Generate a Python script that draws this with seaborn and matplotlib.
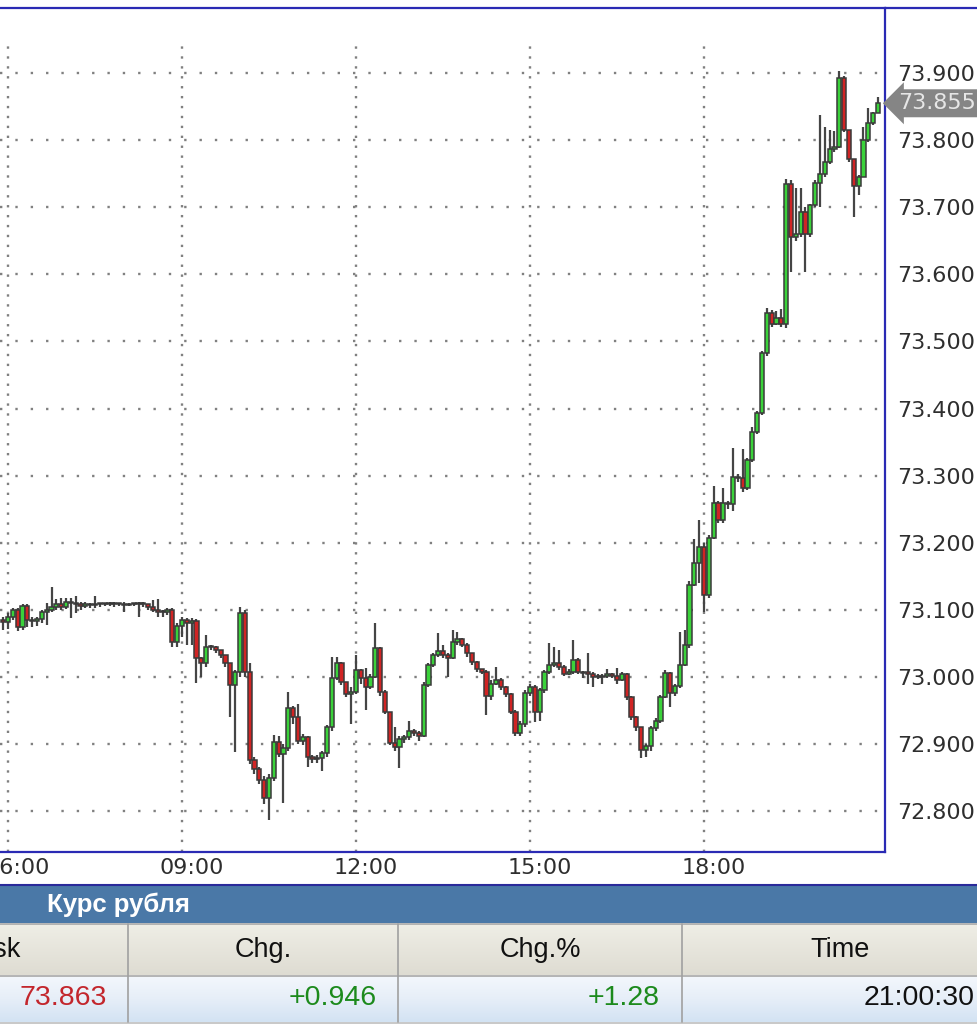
import numpy as np
import pandas as pd
import matplotlib
matplotlib.use('Agg')
import matplotlib.pyplot as plt
import seaborn as sns
from matplotlib.lines import Line2D
from matplotlib.patches import Rectangle
from matplotlib.colors import LinearSegmentedColormap
from matplotlib.transforms import ScaledTranslation, blended_transform_factory

# 5 minute candles, the first one at 05:55, the last one at 21:00
start_hour = 5 + 55 / 60
first_open = 73.085

closes = [73.082, 73.090, 73.100, 73.075, 73.106, 73.085, 73.083, 73.086, 73.097, 73.099,
          73.104, 73.108, 73.104, 73.112, 73.110, 73.108, 73.106, 73.108, 73.107, 73.109,
          73.108, 73.108, 73.109, 73.108, 73.108, 73.107, 73.108, 73.108, 73.110, 73.108,
          73.104, 73.100, 73.097, 73.096, 73.100, 73.052, 73.076, 73.085, 73.081, 73.083,
          73.028, 73.020, 73.045, 73.044, 73.040, 73.032, 73.020, 72.988, 73.007, 73.095,
          73.007, 72.876, 72.862, 72.847, 72.819, 72.850, 72.903, 72.885, 72.894, 72.953,
          72.940, 72.905, 72.910, 72.880, 72.877, 72.879, 72.886, 72.925, 72.998, 73.020,
          72.993, 72.975, 72.977, 73.010, 72.998, 72.985, 73.000, 73.043, 72.977, 72.948,
          72.901, 72.895, 72.907, 72.910, 72.920, 72.916, 72.912, 72.988, 73.018, 73.033,
          73.038, 73.033, 73.028, 73.052, 73.056, 73.048, 73.035, 73.022, 73.012, 73.008,
          72.972, 72.990, 72.995, 72.985, 72.975, 72.948, 72.916, 72.930, 72.976, 72.985,
          72.948, 72.980, 73.007, 73.018, 73.020, 73.015, 73.005, 73.008, 73.025, 73.007,
          73.006, 73.005, 73.000, 73.000, 73.001, 73.004, 73.002, 72.996, 73.004, 72.970,
          72.940, 72.925, 72.891, 72.897, 72.924, 72.935, 72.970, 73.006, 72.976, 72.986,
          73.018, 73.047, 73.137, 73.170, 73.193, 73.122, 73.207, 73.259, 73.234, 73.259,
          73.257, 73.298, 73.296, 73.281, 73.323, 73.365, 73.393, 73.483, 73.542, 73.526,
          73.535, 73.526, 73.735, 73.656, 73.660, 73.693, 73.660, 73.703, 73.736, 73.750,
          73.767, 73.787, 73.790, 73.893, 73.815, 73.772, 73.732, 73.745, 73.800, 73.825,
          73.840, 73.855]

highs = [73.090, 73.095, 73.102, 73.103, 73.108, 73.108, 73.090, 73.090, 73.099, 73.110,
         73.134, 73.116, 73.118, 73.118, 73.118, 73.120, 73.112, 73.112, 73.110, 73.121,
         73.110, 73.110, 73.112, 73.111, 73.110, 73.112, 73.110, 73.110, 73.111, 73.111,
         73.109, 73.114, 73.116, 73.100, 73.102, 73.103, 73.080, 73.090, 73.088, 73.088,
         73.086, 73.030, 73.062, 73.048, 73.046, 73.040, 73.030, 73.020, 73.010, 73.104,
         73.100, 73.021, 72.880, 72.865, 72.852, 72.855, 72.913, 72.912, 72.900, 72.977,
         72.956, 72.960, 72.915, 72.912, 72.883, 72.884, 72.890, 72.928, 73.030, 73.030,
         73.022, 72.992, 72.985, 73.033, 73.012, 73.013, 73.004, 73.080, 73.045, 72.980,
         72.948, 72.925, 72.912, 72.914, 72.935, 72.922, 72.920, 72.992, 73.020, 73.036,
         73.065, 73.048, 73.035, 73.070, 73.067, 73.058, 73.050, 73.036, 73.024, 73.012,
         73.010, 72.995, 73.015, 72.998, 72.986, 72.976, 72.950, 72.934, 72.980, 72.990,
         72.988, 72.983, 73.010, 73.050, 73.045, 73.040, 73.018, 73.012, 73.055, 73.028,
         73.009, 73.035, 73.008, 73.004, 73.005, 73.012, 73.006, 73.013, 73.008, 73.006,
         72.972, 72.942, 72.926, 72.900, 72.927, 72.938, 72.973, 73.010, 73.008, 72.990,
         73.067, 73.070, 73.143, 73.205, 73.234, 73.200, 73.212, 73.285, 73.262, 73.282,
         73.262, 73.341, 73.303, 73.340, 73.326, 73.372, 73.397, 73.486, 73.550, 73.547,
         73.545, 73.548, 73.742, 73.740, 73.728, 73.728, 73.700, 73.705, 73.740, 73.837,
         73.820, 73.815, 73.813, 73.903, 73.895, 73.812, 73.772, 73.748, 73.820, 73.848,
         73.842, 73.864]

lows = [73.070, 73.072, 73.085, 73.068, 73.070, 73.075, 73.075, 73.076, 73.080, 73.078,
        73.096, 73.100, 73.100, 73.101, 73.088, 73.095, 73.100, 73.102, 73.103, 73.103,
        73.104, 73.106, 73.106, 73.104, 73.106, 73.097, 73.105, 73.106, 73.090, 73.104,
        73.100, 73.096, 73.090, 73.090, 73.092, 73.045, 73.044, 73.060, 73.047, 73.047,
        72.991, 73.000, 73.015, 73.040, 73.035, 73.028, 73.015, 72.940, 72.888, 73.000,
        73.000, 72.870, 72.855, 72.840, 72.810, 72.787, 72.845, 72.880, 72.812, 72.890,
        72.930, 72.900, 72.898, 72.866, 72.872, 72.872, 72.860, 72.880, 72.920, 72.995,
        72.988, 72.970, 72.930, 72.975, 72.990, 72.950, 72.982, 72.998, 72.972, 72.944,
        72.898, 72.890, 72.864, 72.902, 72.906, 72.912, 72.905, 72.910, 72.985, 73.015,
        73.030, 73.028, 73.000, 73.026, 73.048, 73.045, 73.030, 73.018, 73.008, 73.004,
        72.943, 72.965, 72.988, 72.980, 72.970, 72.944, 72.912, 72.912, 72.925, 72.972,
        72.933, 72.935, 72.976, 73.004, 73.015, 73.010, 73.002, 73.003, 73.005, 73.004,
        72.998, 72.990, 72.985, 72.997, 72.990, 72.998, 72.998, 72.990, 72.994, 72.966,
        72.936, 72.920, 72.879, 72.880, 72.890, 72.920, 72.932, 72.968, 72.955, 72.972,
        72.984, 73.016, 73.043, 73.135, 73.140, 73.097, 73.118, 73.205, 73.230, 73.230,
        73.250, 73.248, 73.290, 73.275, 73.278, 73.320, 73.362, 73.390, 73.478, 73.522,
        73.524, 73.522, 73.520, 73.603, 73.650, 73.655, 73.603, 73.655, 73.700, 73.700,
        73.745, 73.765, 73.782, 73.788, 73.812, 73.768, 73.685, 73.718, 73.745, 73.798,
        73.823, 73.840]

y_ticks = [72.8, 72.9, 73.0, 73.1, 73.2, 73.3, 73.4, 73.5, 73.6, 73.7, 73.8, 73.9]
x_ticks = [6, 9, 12, 15, 18]
x_labels = ['06:00', '09:00', '12:00', '15:00', '18:00']
last_price = 73.855

table_title = 'Курс рубля'
col_names = ['Ask', 'Chg.', 'Chg.%', 'Time']
row_values = ['73.863', '+0.946', '+1.28', '21:00:30']

df = pd.DataFrame({'close': closes, 'high': highs, 'low': lows})
df['open'] = df['close'].shift(1).fillna(first_open)
df['hour'] = start_hour + np.arange(len(df)) / 12
df['up'] = df['close'] >= df['open']

sns.set_theme(style='white')
plt.rcParams['font.family'] = ['DejaVu Sans']

W, H = 978, 1024
fig = plt.figure(figsize=(W / 100, H / 100), dpi=100)
fig.patch.set_facecolor('white')

blue = '#2a2ab4'
# chart area in pixels: x 0..885, y 8..852
ax = fig.add_axes([0, 1 - 852 / H, 885 / W, 844 / H])
ax.set_facecolor('white')
ax.set_xlim(5.862, 21.121)
ax.set_ylim(72.739, 73.997)

# dotted grid
for yv in y_ticks:
    ax.axhline(yv, color='#808080', lw=1.7, ls=(0, (1, 5.5)), zorder=0)
for xv in x_ticks:
    ax.axvline(xv, ymin=0, ymax=0.956, color='#808080', lw=1.7, ls=(0, (1, 3.2)), zorder=0)

# wicks and bodies
ax.vlines(df['hour'], df['low'], df['high'], color='#454545', lw=1.6, zorder=2)
body_low = np.minimum(df['open'], df['close'])
body_h = np.maximum((df['close'] - df['open']).abs(), 0.002)
ax.bar(df['hour'], body_h, bottom=body_low, width=0.072,
       color=np.where(df['up'], '#3ad23a', '#d02424'),
       edgecolor='#3a3a3a', linewidth=1.1, zorder=3)

for side in ['top', 'right', 'bottom']:
    ax.spines[side].set_color(blue)
    ax.spines[side].set_linewidth(1.6)
ax.spines['left'].set_visible(False)

ax.yaxis.tick_right()
ax.set_yticks(y_ticks)
ax.set_yticklabels([f'{v:.3f}' for v in y_ticks])
ax.set_xticks(x_ticks)
ax.set_xticklabels(x_labels)
ax.tick_params(axis='y', length=0, pad=8.5, labelsize=16, labelcolor='#2e2e2e')
ax.tick_params(axis='x', length=0, pad=4.5, labelsize=16, labelcolor='#2e2e2e')
for lab in ax.get_xticklabels():
    lab.set_transform(lab.get_transform() + ScaledTranslation(0.1, 0, fig.dpi_scale_trans))

# last price tag
tr = blended_transform_factory(ax.transAxes, ax.transData)
ax.text(1.0, last_price, f'{last_price:.3f}', ha='left', va='center',
        transform=tr + ScaledTranslation(0.13, 0, fig.dpi_scale_trans),
        fontsize=16, color='#e6e6e6', clip_on=False, zorder=5,
        bbox=dict(boxstyle='larrow,pad=0.18', fc='#858585', ec='none'))

# top border continues to the right edge
fig.add_artist(Line2D([885 / W, 1], [1 - 8 / H, 1 - 8 / H], color=blue, lw=1.6,
                      transform=fig.transFigure))

# table under the chart, pixel coordinates
tb = fig.add_axes([0, 0, 1, 141 / H])
tb.set_xlim(0, W)
tb.set_ylim(H, 883)
tb.axis('off')

tb.add_patch(Rectangle((0, 884), W, 39, fc='#4a78a7', ec='none'))
tb.plot([0, W], [884.5, 884.5], color='#2a2a9a', lw=1.5)
grad = np.linspace(0, 1, 50).reshape(-1, 1)
tb.imshow(grad, extent=(0, W, 975, 924),
          cmap=LinearSegmentedColormap.from_list('hdr', ['#efeee6', '#dedcd2']),
          aspect='auto', zorder=1)
tb.imshow(grad, extent=(0, W, 1022, 976),
          cmap=LinearSegmentedColormap.from_list('row', ['#f3f7fc', '#e6eef8', '#d3e3f3']),
          aspect='auto', zorder=1)
tb.add_patch(Rectangle((0, 1022), W, 2, fc='#c9c9c9', ec='none', zorder=2))
for yy in [924, 975.5]:
    tb.plot([0, W], [yy, yy], color='#a8a8a8', lw=1.2, zorder=3)
for xx in [128, 398, 682]:
    tb.plot([xx, xx], [924, 1022], color='#a0a0a0', lw=1.2, zorder=3)

tfont = ['Liberation Sans', 'DejaVu Sans']
tb.text(47, 905, table_title, ha='left', va='center', color='white', fontsize=18.5,
        fontweight='bold', family=tfont, zorder=4)
tb.text(21, 950, col_names[0], ha='right', va='center', fontsize=19.5, color='#111111',
        family=tfont, zorder=4)
for name, cx in zip(col_names[1:], [263, 540, 840]):
    tb.text(cx, 950, name, ha='center', va='center', fontsize=19.5, color='#111111',
            family=tfont, zorder=4)
for val, rx, col in zip(row_values, [107, 377, 660, 975],
                        ['#c3262c', '#1c8a1c', '#1c8a1c', '#111111']):
    tb.text(rx, 998, val, ha='right', va='center', fontsize=20.5, color=col,
            family=tfont, zorder=4)

fig.savefig('out.png', dpi=100)
